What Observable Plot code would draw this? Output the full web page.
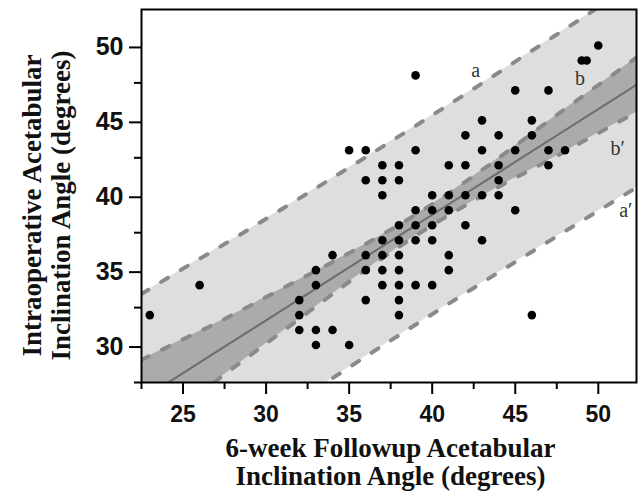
<!DOCTYPE html>
<html><head><meta charset="utf-8">
<script src="https://cdn.jsdelivr.net/npm/d3@7"></script>
<script src="https://cdn.jsdelivr.net/npm/@observablehq/plot@0.6"></script>
<style>body{margin:0;background:#fff}</style>
</head><body><div id="chart"></div>
<script>
// Scatter points: 6-week followup (x) vs intraoperative (y) inclination angle
const followupX = [23,26,32,32,32,33,33,33,33,34,34,35,35,
  36,36,36,36,36,37,37,37,37,37,37,37,
  38,38,38,38,38,38,38,38,38,39,39,39,39,39,39,
  40,40,40,40,40,41,41,41,41,41,42,42,42,42,
  43,43,43,43,44,44,44,44,45,45,45,46,46,46,
  47,47,47,48,49,49.3,50];
const intraopY = [32,34,33,32,31,35,34,31,30,36,31,43,30,
  43,41,36,35,33,42,41,40,37,36,35,34,
  42,41,38,37,36,35,34,33,32,48,43,39,38,37,34,
  40,39,38,37,34,42,40,39,36,35,44,42,40,38,
  45,43,40,37,44,42,41,40,47,43,39,45,44,32,
  47,43,42,43,49,49,50];

// Regression fit, confidence band (b, b') and prediction band (a, a'), read at these x
const bandX  = [22.5, 25, 27.5, 30, 32.5, 35, 37.5, 40, 42.5, 45, 47.5, 50, 52.5];
const fitY   = [26.36, 28.13, 29.89, 31.65, 33.41, 35.18, 36.94, 38.70, 40.46, 42.23, 43.99, 45.75, 47.51];
const ciLow  = [23.71, 25.88, 28.04, 30.10, 32.16, 34.22, 36.18, 38.00, 39.63, 41.16, 42.62, 44.15, 45.66];
const ciHigh = [29.01, 30.38, 31.74, 33.20, 34.66, 36.14, 37.70, 39.40, 41.29, 43.30, 45.36, 47.35, 49.36];
const piLow  = [19.31, 21.16, 23.04, 24.87, 26.69, 28.51, 30.30, 32.06, 33.81, 35.54, 37.25, 38.96, 40.65];
const piHigh = [33.41, 35.10, 36.74, 38.43, 40.13, 41.85, 43.58, 45.34, 47.11, 48.92, 50.73, 52.54, 54.37];

// Band labels
const labelText = ["a", "b", "b\u2032", "a\u2032"];
const labelX = [42.62, 48.9, 51.16, 51.66];
const labelY = [48.33, 47.77, 43.09, 38.96];

// Ticks
const xMajorTicks = [25, 30, 35, 40, 45, 50];
const xMinorTicks = [22.5, 27.5, 32.5, 37.5, 42.5, 47.5];
const yMajorTicks = [30, 35, 40, 45, 50];
const yMinorTicks = [27.5, 32.5, 37.5, 42.5, 47.5];

const xTitle = "6-week Followup Acetabular\nInclination Angle (degrees)";
const yTitle = "Intraoperative Acetabular\nInclination Angle (degrees)";

const points = followupX.map((x, i) => ({x, y: intraopY[i]}));
const band = bandX.map((x, i) => ({x, fit: fitY[i], ciLo: ciLow[i], ciHi: ciHigh[i], piLo: piLow[i], piHi: piHigh[i]}));
const labels = labelText.map((t, i) => ({t, x: labelX[i], y: labelY[i]}));

const dash = {stroke: "#8a8a8a", strokeWidth: 4, strokeDasharray: "8,15", curve: "natural", clip: true};
const sans = "Liberation Sans, Arial, Helvetica, sans-serif";
const serif = "Liberation Serif, Times New Roman, serif";

const chart = Plot.plot({
  width: 641, height: 491,
  marginLeft: 141, marginRight: 5, marginTop: 9, marginBottom: 109,
  x: {domain: [22.5, 52.3], label: null},
  y: {domain: [27.5, 52.4], label: null},
  style: {background: "white"},
  marks: [
    Plot.areaY(band, {x: "x", y1: "piLo", y2: "piHi", fill: "#dedede", curve: "natural", clip: true}),
    Plot.areaY(band, {x: "x", y1: "ciLo", y2: "ciHi", fill: "#ababab", curve: "natural", clip: true}),
    Plot.line(band, {x: "x", y: "fit", stroke: "#6c6c6c", strokeWidth: 2, clip: true}),
    Plot.line(band, {x: "x", y: "piHi", ...dash}),
    Plot.line(band, {x: "x", y: "piLo", ...dash}),
    Plot.line(band, {x: "x", y: "ciHi", ...dash}),
    Plot.line(band, {x: "x", y: "ciLo", ...dash}),
    Plot.dot(points, {x: "x", y: "y", r: 4.3, fill: "black"}),
    Plot.text(labels, {x: "x", y: "y", text: "t", fontFamily: serif, fontSize: 20, fill: "#333"}),
    Plot.frame({stroke: "black", strokeWidth: 2}),
    Plot.axisX({ticks: xMajorTicks, tickSize: 12, tickPadding: 11, strokeWidth: 2, label: null,
      fontSize: 23, fontWeight: "bold", fontFamily: sans, fill: "#111"}),
    Plot.axisX({ticks: xMinorTicks, tickSize: 7, strokeWidth: 2, label: null, tickFormat: () => ""}),
    Plot.axisY({ticks: yMajorTicks, tickSize: 12, tickPadding: 6, strokeWidth: 2, label: null, dy: 2,
      fontSize: 25, fontWeight: "bold", fontFamily: sans, fill: "#111"}),
    Plot.axisY({ticks: yMinorTicks, tickSize: 7, strokeWidth: 2, label: null, tickFormat: () => ""}),
    Plot.text([xTitle], {text: d => d, frameAnchor: "bottom", textAnchor: "middle", dx: 1.5, dy: 79.3, lineAnchor: "middle",
      fontSize: 27, fontWeight: "bold", fontFamily: serif, lineHeight: 1.04, fill: "#111"}),
    Plot.text([yTitle], {text: d => d, frameAnchor: "left", textAnchor: "middle", rotate: -90, dx: -95, dy: 9.5, lineAnchor: "middle",
      fontSize: 27, fontWeight: "bold", fontFamily: serif, lineHeight: 1.05, fill: "#111"})
  ]
});
document.getElementById("chart").appendChild(chart);
</script>
</body></html>
